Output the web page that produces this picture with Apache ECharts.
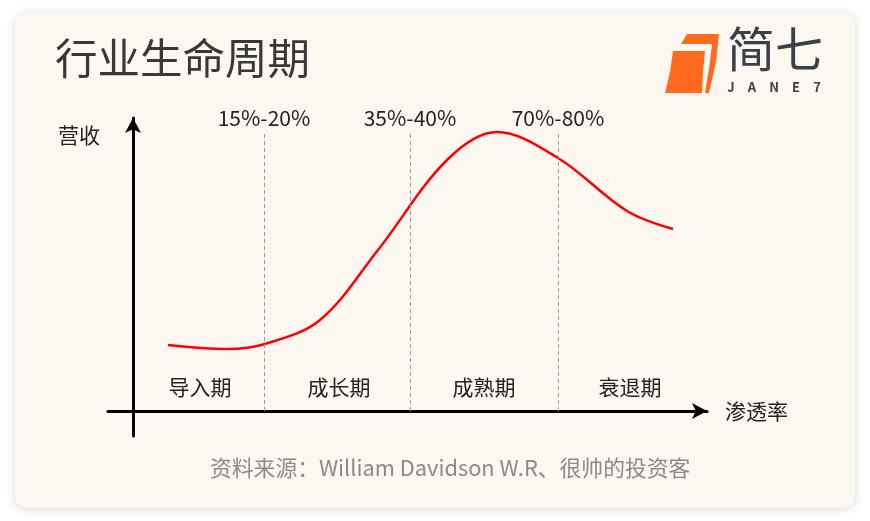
<!DOCTYPE html>
<html>
<head>
<meta charset="utf-8">
<script src="https://cdn.jsdelivr.net/npm/echarts@6/dist/echarts.min.js"></script>
<style>
html,body{margin:0;padding:0;background:#ffffff;}
#c{width:870px;height:521px;}
</style>
</head>
<body>
<div id="c"></div>
<script>
// Conceptual curve: penetration (x, arbitrary units) vs revenue (y, arbitrary units)
const penetration = [35, 94, 132, 187, 245, 314, 364, 425, 494, 540];
const revenue     = [66, 62, 67, 91, 161, 251, 279, 253, 200, 182];
const boundaryX = [131, 277, 425];
const boundaryTop = 279;
const boundaryLabels = ['15%-20%', '35%-40%', '70%-80%'];
const stageNames = ['导入期', '成长期', '成熟期', '衰退期'];
const titleText = '行业生命周期';
const sourceText = '资料来源：William Davidson W.R、很帅的投资客';

const FONT = '"Noto Sans CJK SC", "Noto Sans", sans-serif';
const chart = echarts.init(document.getElementById('c'));

const stageX = [200, 339, 484, 630];
const graphics = [
  { type: 'rect', z: -10, shape: { x: 15, y: 13, width: 840, height: 495, r: 12 },
    style: { fill: '#fdf7f1', shadowBlur: 10, shadowColor: 'rgba(0,0,0,0.16)', shadowOffsetY: 1 } },
  { type: 'text', left: 55, top: 37, style: { text: titleText, font: '42.5px ' + FONT, fill: '#383838' } },
  { type: 'text', left: 58, top: 125, style: { text: '营收', font: '21px ' + FONT, fill: '#222' } },
  { type: 'text', left: 210, top: 457, style: { text: sourceText, font: '21.8px ' + FONT, fill: '#8a8a8a' } },
  // logo
  { type: 'polygon', shape: { points: [[673,51],[705,51],[703,72],[702,93],[665,93],[670,72]] }, style: { fill: '#ff6a1f' } },
  { type: 'polygon', shape: { points: [[687,34],[719,34],[716,62],[709,93],[705,93],[710,62],[712,44],[681,44]] }, style: { fill: '#ff6a1f' } },
  { type: 'text', left: 727, top: 25, style: { text: '简七', font: '48px ' + FONT, fill: '#3a4047' } }
];
const jane = ['J','A','N','E','7'];
const janeX = [731, 752, 774, 796, 817];
jane.forEach((ch, i) => graphics.push({ type: 'text', x: janeX[i], y: 87,
  style: { text: ch, font: 'bold 13px ' + FONT, fill: '#3a4047', textAlign: 'center', textVerticalAlign: 'middle' } }));
stageNames.forEach((s, i) => graphics.push({ type: 'text', x: stageX[i], y: 387,
  style: { text: s, font: '21px ' + FONT, fill: '#222', textAlign: 'center', textVerticalAlign: 'middle' } }));

const axisCommon = {
  type: 'value',
  axisLine: { show: true, onZero: true, symbol: ['none', 'arrow'], symbolSize: [12, 15], symbolOffset: [0, 0],
    lineStyle: { color: '#000', width: 3 } },
  axisTick: { show: false }, axisLabel: { show: false }, splitLine: { show: false }
};

chart.setOption({
  animation: false,
  backgroundColor: 'transparent',
  graphic: graphics,
  grid: { left: 108, right: 163, top: 118, bottom: 85 },
  xAxis: Object.assign({}, axisCommon, { min: -25, max: 574,
    name: '渗透率', nameLocation: 'end', nameGap: 18,
    nameTextStyle: { fontSize: 21, color: '#222', fontFamily: FONT, verticalAlign: 'middle' } }),
  yAxis: Object.assign({}, axisCommon, { min: -25, max: 293 }),
  series: [{
    type: 'line',
    data: penetration.map((x, i) => [x, revenue[i]]),
    smooth: 0.35,
    symbol: 'none',
    lineStyle: { color: '#ff0000', width: 2.5 },
    markLine: {
      silent: true,
      symbol: ['none', 'none'],
      lineStyle: { color: '#999', type: [4, 3], width: 1 },
      label: { show: true, position: 'end', distance: 3, fontSize: 21, color: '#222', fontFamily: FONT,
        formatter: p => p.name },
      data: boundaryX.map((x, i) => [
        { coord: [x, 0], name: boundaryLabels[i] },
        { coord: [x, boundaryTop] }
      ])
    }
  }]
});
</script>
</body>
</html>
